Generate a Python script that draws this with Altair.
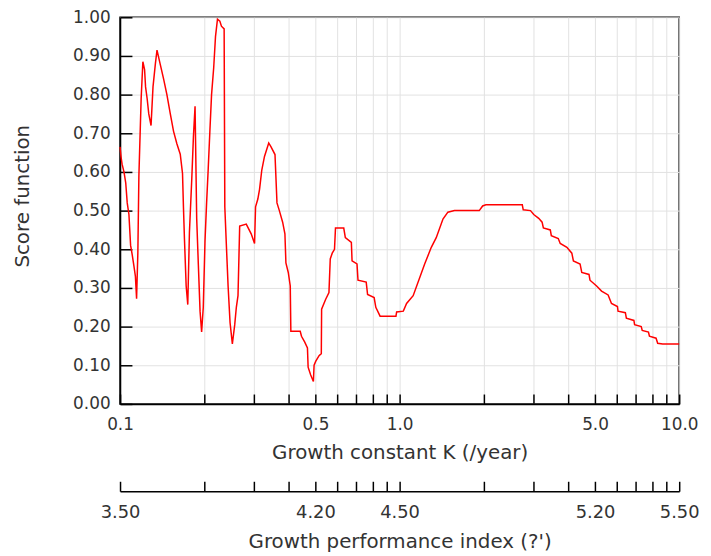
import altair as alt
import pandas as pd

# Growth constant K (/year) and score function values
k_values = [
    0.1, 0.1008, 0.1017, 0.1033, 0.1048, 0.1061, 0.1076, 0.1091, 0.1106, 0.1121,
    0.1135, 0.1146, 0.1158, 0.1168, 0.1190, 0.1207, 0.1224, 0.1234, 0.1250, 0.1267,
    0.1291, 0.1312, 0.1338, 0.1356, 0.1394, 0.1432, 0.1471, 0.1513, 0.1554, 0.1597,
    0.1642, 0.1673, 0.1686, 0.1700, 0.1724, 0.1747, 0.1771, 0.1805, 0.1830, 0.1855,
    0.1880, 0.1906, 0.1933, 0.1958, 0.1985, 0.2013, 0.2040, 0.2068, 0.2097, 0.2125,
    0.2163, 0.2195, 0.2231, 0.2275, 0.2305, 0.2357, 0.2370, 0.2401, 0.2435, 0.2475,
    0.2522, 0.2572, 0.2606, 0.2642, 0.2679, 0.2828, 0.2945, 0.3028, 0.3053, 0.3111,
    0.3155, 0.3214, 0.3286, 0.3403, 0.3468, 0.3583, 0.3642, 0.3714, 0.3816, 0.3888,
    0.3920, 0.3997, 0.4063, 0.4083, 0.4410, 0.4457, 0.4578, 0.4681, 0.4707, 0.4808,
    0.4916, 0.4944, 0.5009, 0.5150, 0.5247, 0.5260, 0.5435, 0.5588, 0.5648, 0.5741,
    0.5849, 0.5897, 0.6312, 0.6395, 0.6720, 0.6759, 0.7040, 0.7098, 0.7594, 0.7681,
    0.8107, 0.8220, 0.8514, 0.9703, 0.9758, 1.031, 1.059, 1.118, 1.229, 1.298,
    1.352, 1.429, 1.488, 1.571, 1.927, 1.981, 2.035, 2.746, 2.768, 2.938,
    3.018, 3.144, 3.233, 3.267, 3.459, 3.488, 3.693, 3.754, 3.965, 4.130,
    4.184, 4.420, 4.482, 4.757, 4.796, 5.065, 5.276, 5.568, 5.725, 6.013,
    6.042, 6.418, 6.471, 6.886, 6.925, 7.314, 7.374, 7.763, 7.826, 8.266,
    8.375, 8.724, 10.0,
]
score_values = [
    0.665, 0.64, 0.62, 0.60, 0.572, 0.52, 0.49, 0.41, 0.385, 0.357,
    0.33, 0.272, 0.39, 0.59, 0.79, 0.885, 0.865, 0.82, 0.79, 0.75,
    0.72, 0.82, 0.88, 0.915, 0.877, 0.84, 0.80, 0.75, 0.705, 0.673,
    0.646, 0.596, 0.508, 0.426, 0.305, 0.257, 0.444, 0.58, 0.69, 0.77,
    0.48, 0.36, 0.24, 0.186, 0.25, 0.42, 0.52, 0.61, 0.71, 0.80,
    0.87, 0.95, 0.995, 0.99, 0.977, 0.97, 0.51, 0.41, 0.305, 0.21,
    0.155, 0.205, 0.25, 0.28, 0.46, 0.465, 0.44, 0.415, 0.51, 0.53,
    0.555, 0.605, 0.64, 0.675, 0.665, 0.645, 0.52, 0.50, 0.47, 0.44,
    0.365, 0.34, 0.305, 0.188, 0.188, 0.175, 0.16, 0.145, 0.095, 0.075,
    0.058, 0.10, 0.11, 0.125, 0.13, 0.245, 0.27, 0.288, 0.375, 0.39,
    0.40, 0.455, 0.455, 0.43, 0.418, 0.37, 0.362, 0.32, 0.315, 0.283,
    0.275, 0.25, 0.227, 0.227, 0.238, 0.24, 0.26, 0.28, 0.362, 0.405,
    0.43, 0.478, 0.496, 0.50, 0.50, 0.512, 0.515, 0.515, 0.502, 0.50,
    0.49, 0.48, 0.47, 0.455, 0.45, 0.435, 0.428, 0.415, 0.405, 0.39,
    0.37, 0.362, 0.34, 0.335, 0.32, 0.305, 0.292, 0.282, 0.26, 0.252,
    0.24, 0.236, 0.222, 0.216, 0.205, 0.20, 0.19, 0.186, 0.175, 0.17,
    0.157, 0.155, 0.155,
]

k_ticks = [0.1, 0.2, 0.3, 0.4, 0.5, 0.6, 0.7, 0.8, 0.9, 1, 2, 3, 4, 5, 6, 7, 8, 9, 10]
k_labelled = [0.1, 0.5, 1, 5, 10]
y_ticks = [0.0, 0.1, 0.2, 0.3, 0.4, 0.5, 0.6, 0.7, 0.8, 0.9, 1.0]
phi_offset = 4.5  # phi' = log10(K) + 4.5 on the secondary axis

FONT = "DejaVu Sans"
TEXT = "#333333"
W, H = 564, 390
SEC_OFFSET = 88

df = pd.DataFrame({"K": k_values, "score": score_values, "idx": list(range(len(k_values)))})

x_scale = alt.Scale(type="log", domain=[0.1, 10], nice=False)
y_scale = alt.Scale(domain=[0, 1], nice=False)

labelled_js = "[" + ",".join(str(v) for v in k_labelled) + "]"

main = alt.Chart(df).mark_line(color="#ff0000", strokeWidth=1.5).encode(
    x=alt.X("K:Q", scale=x_scale, axis=alt.Axis(
        orient="bottom", values=k_ticks, grid=True, tickSize=0,
        labelExpr=f"indexof({labelled_js}, datum.value) >= 0 ? format(datum.value, '.1f') : ''",
        labelFontSize=17, labelPadding=13, labelOverlap=False, labelFlush=False,
        title="Growth constant K (/year)", titleFontSize=20, titlePadding=10)),
    y=alt.Y("score:Q", scale=y_scale, axis=alt.Axis(
        orient="left", values=y_ticks, format=".2f", grid=True, tickSize=0,
        labelFontSize=17, labelPadding=10, labelOverlap=False, labelFlush=False,
        title="Score function", titleFontSize=20, titlePadding=40, titleY=180)),
    order="idx:Q",
)

inner_ticks = alt.Chart(df).mark_line(strokeOpacity=0).encode(
    x=alt.X("K:Q", scale=x_scale, axis=alt.Axis(
        orient="top", offset=-H, values=k_ticks, tickSize=10, labels=False,
        domain=False, grid=False, title=None)),
    y=alt.Y("score:Q", scale=y_scale, axis=alt.Axis(
        orient="right", offset=-W, values=y_ticks, tickSize=12, labels=False,
        domain=False, grid=False, title=None)),
    order="idx:Q",
)

secondary = alt.Chart(df).mark_line(strokeOpacity=0).encode(
    x=alt.X("K:Q", scale=x_scale, axis=alt.Axis(
        orient="bottom", offset=SEC_OFFSET, values=k_labelled, tickSize=0, grid=False,
        labelExpr=f"format({phi_offset} + log(datum.value) / LN10, '.2f')",
        labelFontSize=18, labelPadding=13, labelOverlap=False, labelFlush=False,
        title="Growth performance index (?')", titleFontSize=20, titlePadding=10)),
    y=alt.Y("score:Q", scale=y_scale, axis=None),
    order="idx:Q",
)

secondary_ticks = alt.Chart(df).mark_line(strokeOpacity=0).encode(
    x=alt.X("K:Q", scale=x_scale, axis=alt.Axis(
        orient="top", offset=-(H + SEC_OFFSET), values=k_ticks, tickSize=10,
        labels=False, domain=False, grid=False, title=None)),
    y=alt.Y("score:Q", scale=y_scale, axis=None),
    order="idx:Q",
)

chart = alt.layer(main, inner_ticks, secondary, secondary_ticks).resolve_axis(
    x="independent", y="independent"
).properties(
    width=W, height=H,
    autosize=alt.AutoSizeParams(type="none"),
    padding={"left": 113, "top": 7, "right": 24, "bottom": 150},
).configure_view(
    stroke="black", strokeWidth=1.5
).configure_axis(
    labelFont=FONT, titleFont=FONT, labelColor=TEXT, titleColor=TEXT,
    titleFontWeight="normal", tickColor="black", tickWidth=1.5,
    domainColor="black", domainWidth=1.5, gridColor="#e2e2e2", gridWidth=1,
)

chart.save("out.html", embed_options={"renderer": "svg", "actions": False})
